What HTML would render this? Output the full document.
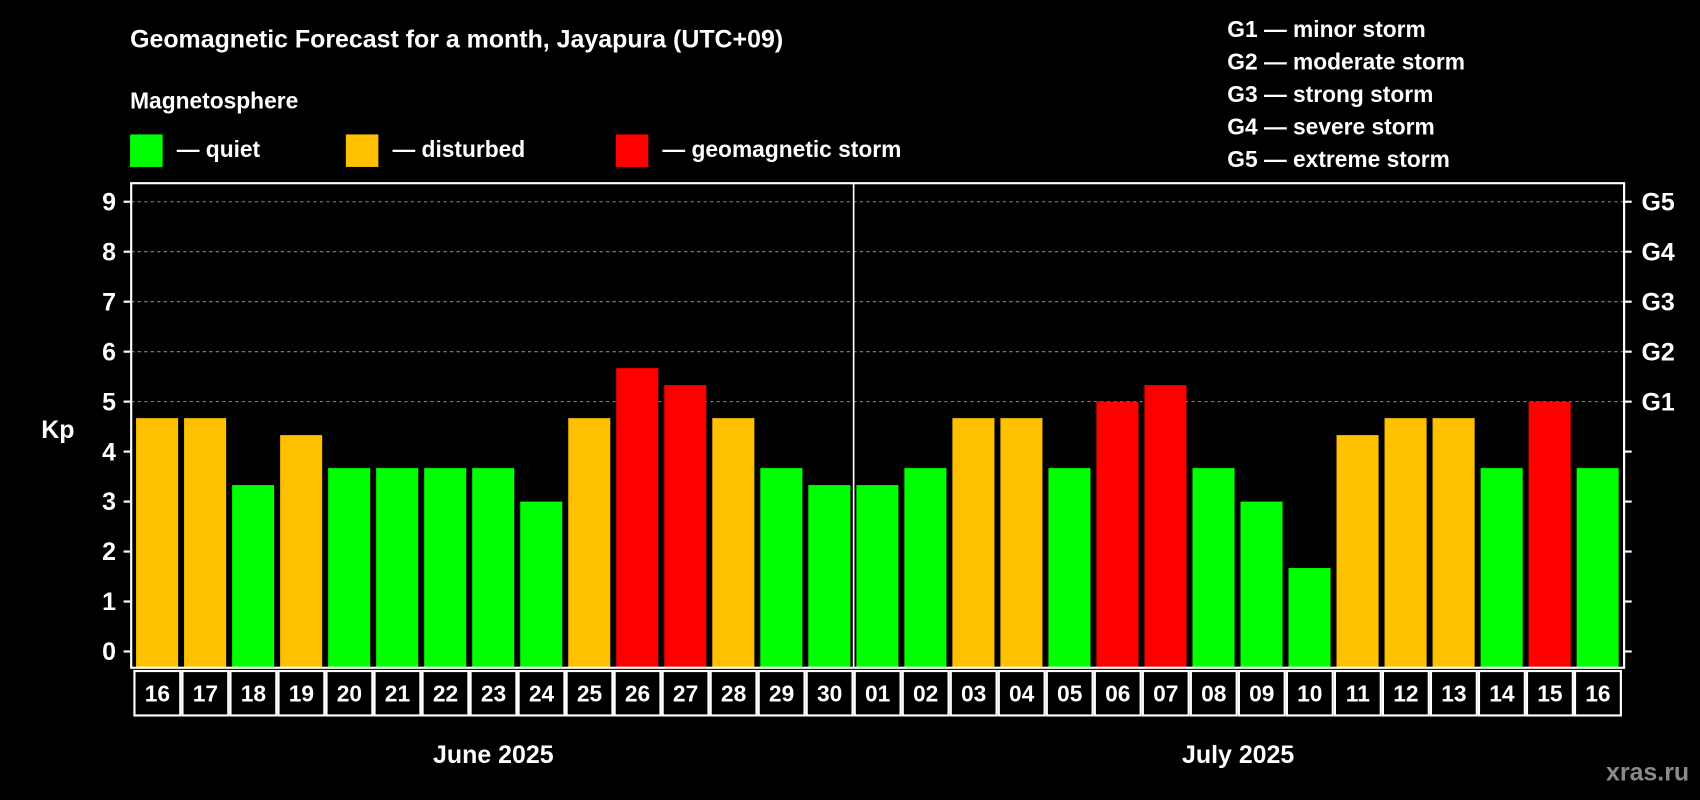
<!DOCTYPE html>
<html><head><meta charset="utf-8"><style>
html,body{margin:0;padding:0;background:#000;width:1700px;height:800px;overflow:hidden}
svg{display:block}
text{font-family:"Liberation Sans",Arial,sans-serif;font-weight:bold;fill:#fff}
</style></head><body>
<svg id="chart" width="1700" height="800" viewBox="0 0 1568 738" preserveAspectRatio="none" xmlns="http://www.w3.org/2000/svg">
<rect width="1568" height="738" fill="#000"/>
<text x="120" y="44" font-size="23">Geomagnetic Forecast for a month, Jayapura (UTC+09)</text>
<text x="120" y="100" font-size="21">Magnetosphere</text>
<g font-size="21">
<rect x="120" y="124" width="30" height="30" fill="#00ff00"/>
<text x="163" y="145">— quiet</text>
<rect x="319" y="124" width="30" height="30" fill="#ffc000"/>
<text x="362" y="145">— disturbed</text>
<rect x="568" y="124" width="30" height="30" fill="#ff0000"/>
<text x="611" y="145">— geomagnetic storm</text>
</g>
<g font-size="21">
<text x="1132" y="34">G1 — minor storm</text>
<text x="1132" y="64">G2 — moderate storm</text>
<text x="1132" y="94">G3 — strong storm</text>
<text x="1132" y="124">G4 — severe storm</text>
<text x="1132" y="154">G5 — extreme storm</text>
</g>
<text x="38" y="404" font-size="23">Kp</text>
<g id="plot"></g>
<text x="455" y="704" font-size="23" text-anchor="middle">June 2025</text>
<text x="1142" y="704" font-size="23" text-anchor="middle">July 2025</text>
<text x="1558" y="720" font-size="23" text-anchor="end" fill="#888" style="fill:#8a8a8a">xras.ru</text>
</svg>
<script>
const days = ["16","17","18","19","20","21","22","23","24","25","26","27","28","29","30","01","02","03","04","05","06","07","08","09","10","11","12","13","14","15","16"];
const kpValues = [4.67,4.67,3.33,4.33,3.67,3.67,3.67,3.67,3,4.67,5.67,5.33,4.67,3.67,3.33,3.33,3.67,4.67,4.67,3.67,5,5.33,3.67,3,1.67,4.33,4.67,4.67,3.67,5,3.67];
const yTicks = [0,1,2,3,4,5,6,7,8,9];
const gLabels = ["G1","G2","G3","G4","G5"];
const NS="http://www.w3.org/2000/svg";
const g=document.getElementById('plot');
const L=121,R=1498,T=169,B=616;
const slot=(R-L-4)/days.length, x0=L+2;
const y=v=>601-v*46.1;
const xs=i=>x0+i*slot;
function el(t,a){const e=document.createElementNS(NS,t);for(const k in a)e.setAttribute(k,a[k]);g.appendChild(e);return e;}
// grid
for(let v=5;v<=9;v++){const l=el('line',{x1:L,x2:R,y1:y(v),y2:y(v),stroke:'#888','stroke-dasharray':'3,3','stroke-width':1});

}
// bars
kpValues.forEach((v,i)=>{
 const c=v>=5?'#ff0000':(v>=4?'#ffc000':'#00ff00');
 const r=el('rect',{x:xs(i)+2.5,y:y(v),width:slot-5.5,height:B-y(v),fill:c});
 
 
 const b=el('rect',{x:xs(i)+1,y:B+3,width:slot-2,height:41,fill:'none',stroke:'#fff','stroke-width':2});
 
 
 const t=el('text',{x:xs(i)+slot/2,y:B+31,'font-size':21,'text-anchor':'middle'});
 t.textContent=days[i];
 
 
});
// month divider
const jul=days.indexOf("01");
const d=el('line',{x1:xs(jul),x2:xs(jul),y1:T,y2:B,stroke:'#fff','stroke-width':1.5});


// axes frame
const f=el('rect',{x:L,y:T,width:R-L,height:B-T,fill:'none',stroke:'#fff','stroke-width':2});


yTicks.forEach(v=>{
 el('line',{x1:L-7,x2:L,y1:y(v),y2:y(v),stroke:'#fff','stroke-width':2});
 el('line',{x1:R,x2:R+7,y1:y(v),y2:y(v),stroke:'#fff','stroke-width':2});
 const t=el('text',{x:L-14,y:y(v)+8,'font-size':23,'text-anchor':'end'});
 t.textContent=v;
 
 
});
gLabels.forEach((s,i)=>{
 const t=el('text',{x:R+16,y:y(5+i)+8,'font-size':23});
 t.textContent=s;
 
 
});
</script>
</body></html>
